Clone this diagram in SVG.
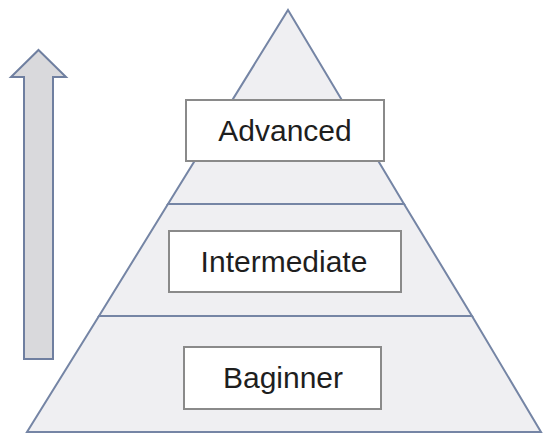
<svg xmlns="http://www.w3.org/2000/svg" width="543" height="435" viewBox="0 0 543 435">
  <style>
    .tier { fill: #efeff2; stroke: #7585a5; stroke-width: 2; stroke-linejoin: miter; }
    .label-box { fill: #ffffff; stroke: #8a8a8a; stroke-width: 2; }
    .label { font-family: "Liberation Sans", Arial, sans-serif; font-size: 30px; fill: #1e1e1e; text-anchor: middle; }
    .arrow { fill: #d9d9dc; stroke: #6f7fa0; stroke-width: 2; stroke-linejoin: miter; }
  </style>
  <rect width="543" height="435" fill="#ffffff"/>

  <!-- upward progress arrow -->
  <g id="progress-arrow">
    <polygon class="arrow" points="38.5,50 66,77 53,77 53,359 24,359 24,77 11,77"/>
  </g>

  <!-- pyramid tiers, top to bottom -->
  <g id="tier-advanced">
    <polygon class="tier" points="288,10 404,204 168,204"/>
    <rect class="label-box" x="186" y="100" width="198" height="61"/>
    <text class="label" x="285" y="141">Advanced</text>
  </g>
  <g id="tier-intermediate">
    <polygon class="tier" points="168,204 404,204 472,316 99,316"/>
    <rect class="label-box" x="169" y="231" width="232" height="61"/>
    <text class="label" x="284" y="272">Intermediate</text>
  </g>
  <g id="tier-beginner">
    <polygon class="tier" points="99,316 472,316 541,432 27,432"/>
    <rect class="label-box" x="184" y="347" width="197" height="62"/>
    <text class="label" x="283" y="388">Baginner</text>
  </g>

  <g id="connectors"/>
</svg>
